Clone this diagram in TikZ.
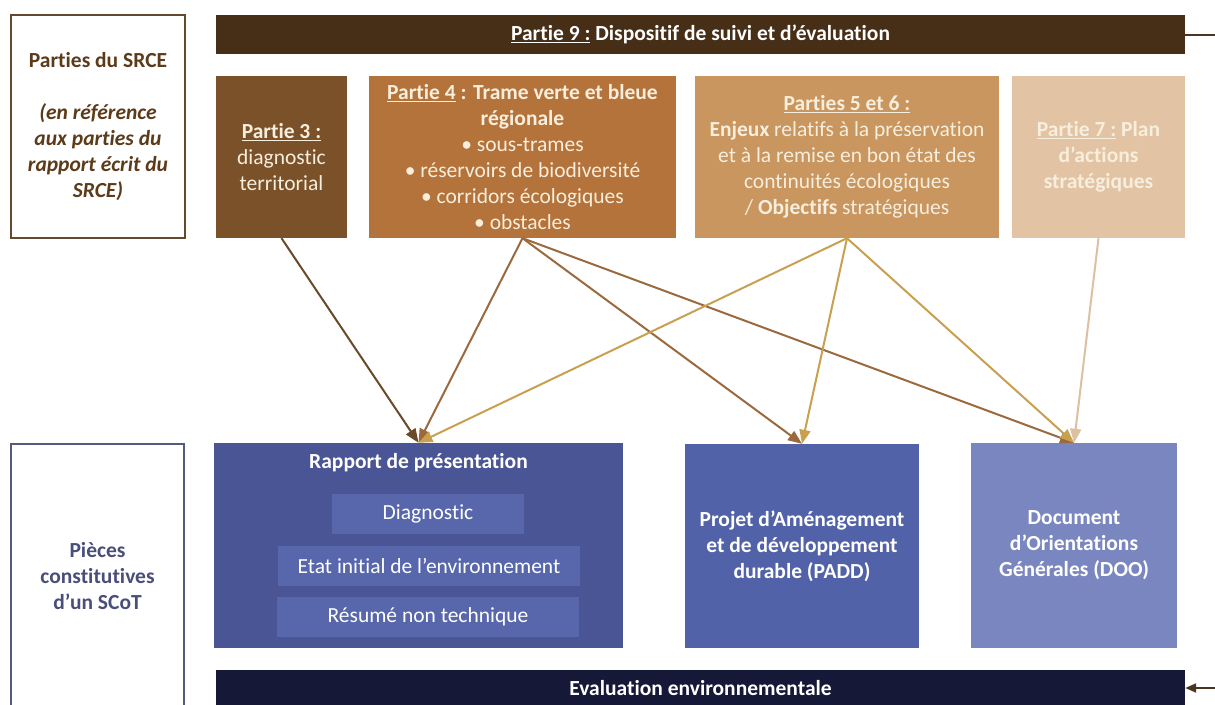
\documentclass[tikz,border=0pt]{standalone}
\usepackage{fontspec}
\setmainfont{Carlito}[Ligatures=NoCommon]
\usetikzlibrary{arrows.meta}
\definecolor{cbar}{HTML}{472E16}
\definecolor{cpt}{HTML}{7B5129}
\definecolor{cpq}{HTML}{B4733A}
\definecolor{cpc}{HTML}{C8965E}
\definecolor{cps}{HTML}{E2C4A4}
\definecolor{ctxt}{HTML}{F7EEDD}
\definecolor{cbrowntxt}{HTML}{5C3B1A}
\definecolor{cbluetxt}{HTML}{4A4F7A}
\definecolor{crap}{HTML}{4A5596}
\definecolor{cin}{HTML}{5867AC}
\definecolor{cpadd}{HTML}{5262A8}
\definecolor{cdoo}{HTML}{7A86BF}
\definecolor{ceval}{HTML}{151836}
\definecolor{carr3}{HTML}{6B4A2A}
\definecolor{carr4}{HTML}{9A6A3E}
\definecolor{carr5}{HTML}{C8A050}
\definecolor{carr7}{HTML}{DCC0A0}
\definecolor{cline}{HTML}{4A3520}
\newcommand\ulx[1]{\underline{#1}}
\begin{document}
\begin{tikzpicture}[x=1pt,y=-1pt,
  fbox/.style={rectangle, inner sep=0pt, align=center, text=ctxt,
    font=\fontsize{21.5}{26}\selectfont},
  sidebox/.style={rectangle, draw, line width=1.3pt, inner sep=0pt, align=center,
    font=\fontsize{21.5}{26}\selectfont\bfseries},
  conn/.style={line width=2pt, -{Triangle[length=14pt,width=11pt]}}]
\useasboundingbox (0,0) rectangle (1215,704);
\fill[white] (0,0) rectangle (1215,704);

% side boxes
\node[sidebox, draw=cbrowntxt!80!gray, text=cbrowntxt, minimum width=174pt, minimum height=223pt]
  (srce) at (98,126.5) {Parties du SRCE\\[26pt]\itshape (en référence\\\itshape aux parties du\\\itshape rapport écrit du\\\itshape SRCE)};
\node[sidebox, draw=cbluetxt!80!gray, text=cbluetxt, minimum width=173pt, minimum height=264pt]
  (scot) at (97.5,576) {Pièces\\constitutives\\d’un SCoT};

% top bar
\node[fbox, fill=cbar, text=white, minimum width=969pt, minimum height=39pt, font=\fontsize{21.5}{26}\selectfont\bfseries]
  (p9) at (700.5,34.5) {\ulx{Partie 9 :} Dispositif de suivi et d’évaluation};
\coordinate (outR) at (1215,34.5);
\draw[line width=2pt, cline] (p9.east) -- (outR);

% SRCE parts
\node[fbox, fill=cpt, minimum width=131pt, minimum height=162pt] (p3) at (281.5,157)
  {\textbf{\ulx{Partie 3 :}}\\diagnostic\\territorial};
\node[fbox, fill=cpq, minimum width=307pt, minimum height=162pt] (p4) at (522.5,157)
  {\textbf{\ulx{Partie 4} : Trame verte et bleue}\\\textbf{régionale}\\• sous-trames\\• réservoirs de biodiversité\\• corridors écologiques\\• obstacles};
\node[fbox, fill=cpc, minimum width=304pt, minimum height=162pt] (p56) at (847,157)
  {\textbf{\ulx{Parties 5 et 6 :}}\\\textbf{Enjeux} relatifs à la préservation\\et à la remise en bon état des\\continuités écologiques\\/ \textbf{Objectifs} stratégiques};
\node[fbox, fill=cps, minimum width=173pt, minimum height=162pt, font=\fontsize{21.5}{26}\selectfont\bfseries] (p7) at (1098.5,157)
  {\ulx{Partie 7 :} Plan\\d’actions\\stratégiques};

% SCoT parts
\node[fbox, fill=crap, text=white, minimum width=409pt, minimum height=205pt] (rap) at (418.5,545.5) {};
\node[fbox, text=white, anchor=center, font=\fontsize{21.5}{26}\selectfont\bfseries] (raptitle) at (418.5,463) {Rapport de présentation};
\node[fbox, fill=cin, text=white, minimum width=192pt, minimum height=40pt] (diag) at (428,514) {Diagnostic};
\node[fbox, fill=cin, text=white, minimum width=302pt, minimum height=40pt] (etat) at (429,566) {Etat initial de l’environnement};
\node[fbox, fill=cin, text=white, minimum width=302pt, minimum height=40pt] (resu) at (428,617) {Résumé non technique};
\node[fbox, fill=cpadd, text=white, minimum width=234pt, minimum height=204pt, font=\fontsize{21.5}{26}\selectfont\bfseries] (padd) at (802,546)
  {Projet d’Aménagement\\et de développement\\durable (PADD)};
\node[fbox, fill=cdoo, text=white, minimum width=206pt, minimum height=205pt, font=\fontsize{21.5}{26}\selectfont\bfseries] (doo) at (1074,545.5)
  {Document\\d’Orientations\\Générales (DOO)};

% bottom bar
\node[fbox, fill=ceval, text=white, minimum width=969pt, minimum height=36pt, font=\fontsize{21.5}{26}\selectfont\bfseries]
  (ev) at (700.5,688) {Evaluation environnementale};
\coordinate (inR) at (1215,688);
\draw[line width=2pt, cline, -{Triangle[length=11pt,width=9pt]}] (inR) -- (ev.east);

% connectors
\draw[conn, carr3] (p3.south) -- (rap.north);
\draw[conn, carr4] (p4.south) -- (rap.north);
\draw[conn, carr4] (p4.south) -- (padd.north);
\draw[conn, carr4] (p4.south) -- (doo.north);
\draw[conn, carr5] (p56.south) -- (rap.north);
\draw[conn, carr5] (p56.south) -- (padd.north);
\draw[conn, carr5] (p56.south) -- (doo.north);
\draw[conn, carr7] (p7.south) -- (doo.north);
\end{tikzpicture}
\end{document}
